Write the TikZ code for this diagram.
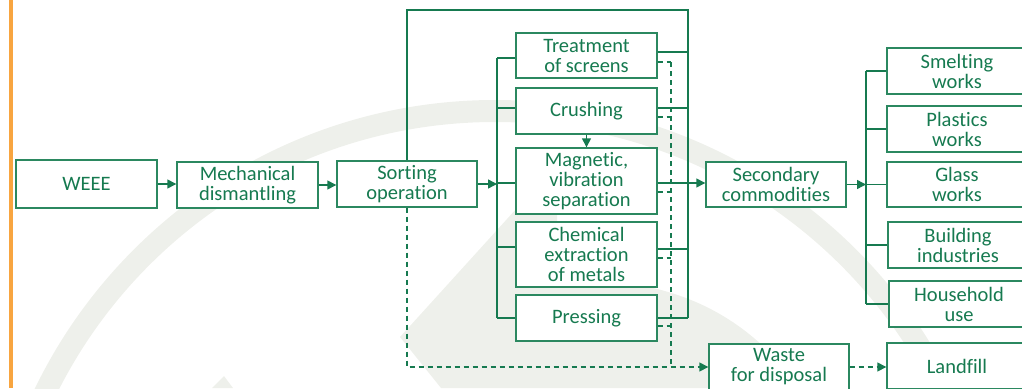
\documentclass[tikz,border=0pt]{standalone}
\usepackage{fontspec}
\setmainfont{Carlito}[Ligatures={NoCommon}]
\usetikzlibrary{arrows.meta}

\definecolor{flowgreen}{HTML}{167A50}
\definecolor{framegreen}{HTML}{2B8860}
\definecolor{markgray}{HTML}{EEF0EB}
\definecolor{sideorange}{HTML}{F8A540}

\tikzset{
  stage/.style={draw=framegreen, line width=1.4pt, fill=white, text=flowgreen,
    align=center, minimum width=141pt, minimum height=46pt, inner sep=0pt,
    font=\fontsize{20.5}{20}\selectfont},
  flow/.style={draw=flowgreen, line width=1.4pt},
  arr/.style={-{Triangle[length=9pt,width=9pt]}},
  dashflow/.style={dash pattern=on 5pt off 4pt}
}

\begin{document}
\begin{tikzpicture}[x=1pt,y=-1pt]
            \useasboundingbox (0,0) rectangle (1022,388);
            \clip (0,0) rectangle (1022,388);

            \draw[markgray, line width=22pt] (495,611) circle[radius=500];
            \fill[markgray] (400,337) -- (517,208) -- (557,208) -- (557,280)
                .. controls (680,275) and (750,320) .. (800,388) -- (441,388) -- cycle;
            \fill[markgray] (212,388) -- (224,376) -- (233,388) -- cycle;
            \draw[sideorange, line width=4pt] (10.5,0) -- (10.5,388);

            \node[stage, minimum height=48pt] (weee) at (86.5,184) {WEEE};
            \node[stage] (mech) at (247.5,185) {Mechanical\\dismantling};
            \node[stage, minimum width=140pt] (sort) at (407,184) {Sorting\\operation};
            \node[stage, minimum height=45pt] (treat) at (586.5,55.5) {Treatment\\of screens};
            \node[stage] (crush) at (586.5,111) {Crushing};
            \node[stage, minimum height=66pt] (magn) at (586.5,181) {Magnetic,\\vibration\\separation};
            \node[stage, minimum height=65pt] (chem) at (586.5,254.5) {Chemical\\extraction\\of metals};
            \node[stage] (press) at (586.5,318) {Pressing};
            \node[stage, minimum width=140pt, minimum height=45pt] (comm) at (776,184.5) {Secondary\\commodities};
            \node[stage, minimum width=140pt] (smelt) at (957,71) {Smelting\\works};
            \node[stage, minimum width=140pt] (plast) at (957,129) {Plastics\\works};
            \node[stage, minimum width=140pt, minimum height=45pt] (glass) at (957,184.5) {Glass\\works};
            \node[stage, minimum width=140pt] (build) at (958,245) {Building\\industries};
            \node[stage, minimum width=140pt] (house) at (959,304) {Household\\use};
            \node[stage, minimum width=140pt] (disp) at (779,367) {Waste\\for disposal};
            \node[stage, minimum width=140pt] (land) at (957,366) {Landfill};

            \coordinate (lbus) at (497,184);
            \coordinate (rtop) at (688,10);
            \coordinate (dbus) at (671,184);
            \coordinate (cbus) at (866,184.5);

            \draw[flow, arr] (weee.east) -- (weee.east -| mech.west);
            \draw[flow, arr] (mech.east) -- (mech.east -| sort.west);
            \draw[flow, arr] (sort.east) -- (sort.east -| lbus);
            \draw[flow, arr] (crush) -- (magn);

            \foreach \stg/\lin/\lout/\ldash in {treat/-2.5/3.5/-6.5, crush/3/3/-6, magn/-2/-2/-11, chem/7.5/5.5/-3.5, press/0/0/-8} {
                \path ([yshift=\lin pt]\stg.west) coordinate (in-\stg)
                      ([yshift=\lout pt]\stg.east) coordinate (out-\stg)
                      ([yshift=\ldash pt]\stg.east) coordinate (dash-\stg);
                \draw[flow] (in-\stg -| lbus) -- (in-\stg);
                \draw[flow] (out-\stg) -- (out-\stg -| rtop);
                \draw[flow, dashflow] (dash-\stg) -- (dash-\stg -| dbus);
            }
            \draw[flow] (in-treat -| lbus) -- (in-press -| lbus);
            \draw[flow] (sort.north) -- (sort.north |- rtop) -- (rtop) -- (out-press -| rtop);
            \draw[flow, arr] (out-magn) -- (out-magn -| comm.west);

            \draw[flow, dashflow] (dash-treat -| dbus) -- (dbus |- disp.west);
            \draw[flow, dashflow, arr] (sort.south) -- (sort.south |- disp.west) -- (disp.west);
            \draw[flow, dashflow, arr] (disp.east) -- (disp.east -| land.west);

            \draw[flow, arr] (comm.east) -- (cbus);
            \draw[flow] (smelt.west -| cbus) -- (house.west -| cbus);
            \foreach \stg in {smelt, plast, glass, build, house}
                \draw[flow] (\stg.west -| cbus) -- (\stg.west);
\end{tikzpicture}
\end{document}
